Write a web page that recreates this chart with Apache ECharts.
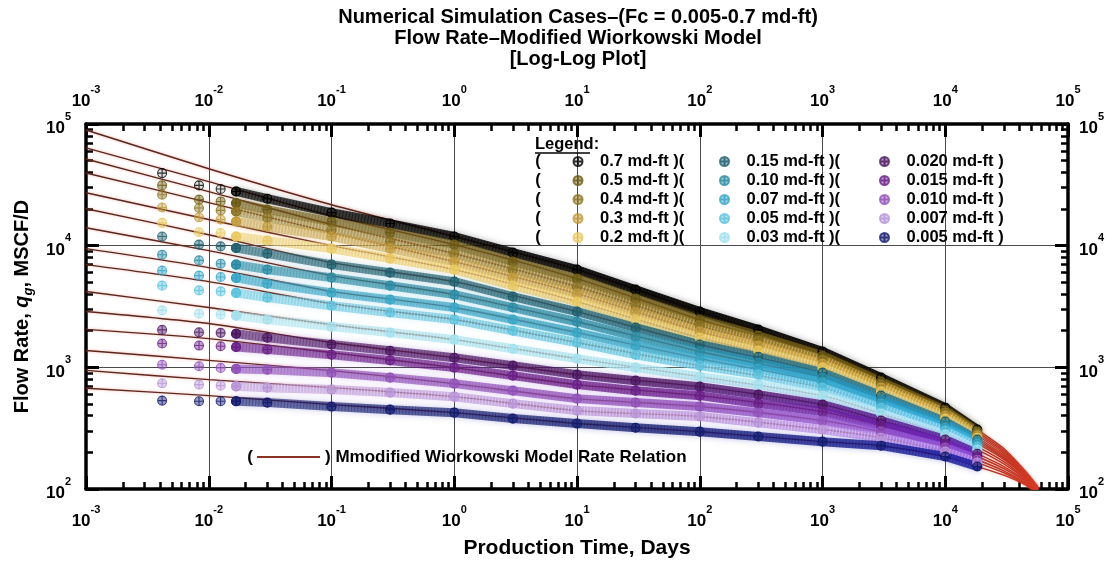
<!DOCTYPE html>
<html>
<head>
<meta charset="utf-8">
<title>Flow Rate – Modified Wiorkowski Model</title>
<script src="https://cdn.jsdelivr.net/npm/echarts@6/dist/echarts.min.js"></script>
<style>
  html, body { margin: 0; padding: 0; background: #fff; }
  #chart { width: 1113px; height: 565px; }
</style>
</head>
<body>
<div id="chart"></div>
<script>
// ---- Simulated production data (days, MSCF/D) ----
const sampleTimes = [0.00417, 0.00833, 0.0125, 0.0167, 0.03, 0.1, 0.3, 1, 3, 10, 30, 100, 300, 1000, 3000, 10000, 18250];

const rate_0p7   = [39500, 31300, 29200, 27900, 24300, 18700, 15200, 11900, 8760, 6350, 4350, 2870, 2040, 1350, 823, 466, 308];
const rate_0p5   = [31300, 23900, 23100, 22400, 19800, 15700, 12800, 10200, 7390, 5360, 3670, 2470, 1820, 1250, 763, 441, 296];
const rate_0p4   = [26200, 20400, 19500, 19100, 17000, 13500, 10800, 8600, 6350, 4600, 3210, 2200, 1660, 1160, 721, 424, 285];
const rate_0p3   = [20600, 17100, 16400, 15800, 14300, 11900, 9450, 7390, 5460, 4030, 2820, 1970, 1510, 1070, 681, 401, 275];
const rate_0p2   = [15400, 12900, 12700, 11900, 11000, 9450, 7820, 6350, 4690, 3470, 2470, 1750, 1370, 994, 631, 379, 264];
const rate_0p15  = [11900, 10200, 9870, 9570, 8600, 6980, 6000, 5060, 3810, 2870, 2120, 1540, 1220, 904, 585, 358, 255];
const rate_0p10  = [8430, 7570, 7110, 6980, 6350, 5460, 4690, 3960, 3100, 2370, 1790, 1350, 1090, 823, 543, 338, 245];
const rate_0p07  = [6230, 5670, 5530, 5430, 4870, 4110, 3600, 3100, 2470, 1930, 1510, 1180, 976, 749, 503, 319, 236];
const rate_0p05  = [4690, 4290, 4210, 4090, 3740, 3210, 2820, 2470, 2000, 1600, 1270, 1033, 871, 681, 466, 302, 223];
const rate_0p03  = [2940, 2760, 2710, 2660, 2470, 2160, 1930, 1690, 1420, 1180, 994, 839, 721, 585, 417, 280, 211];
const rate_0p020 = [2030, 1940, 1920, 1890, 1750, 1540, 1370, 1200, 1033, 871, 777, 694, 597, 494, 365, 255, 195];
const rate_0p015 = [1570, 1510, 1490, 1470, 1400, 1270, 1140, 994, 855, 721, 643, 585, 503, 432, 332, 236, 185];
const rate_0p010 = [1050, 1020, 989, 970, 957, 904, 823, 735, 643, 553, 513, 476, 424, 365, 296, 219, 174];
const rate_0p007 = [739, 721, 707, 698, 681, 656, 620, 574, 503, 441, 417, 394, 351, 308, 264, 203, 165];
const rate_0p005 = [533, 526, 526, 526, 513, 476, 449, 424, 379, 345, 319, 296, 270, 245, 227, 185, 153];

// ---- Modified Wiorkowski rate relation, one curve per case ----
const modelTimes = [0.001, 0.01, 0.1, 1, 10, 100, 1000, 3000, 10000, 18250, 30000, 45000, 57000];

const model_0p7   = [89300, 42900, 21700, 11900, 6350, 2870, 1350, 823, 466, 308, 215, 140, 104];
const model_0p5   = [63600, 33600, 17600, 10200, 5360, 2470, 1250, 763, 441, 296, 208, 137, 103];
const model_0p4   = [51600, 27800, 14900, 8600, 4600, 2200, 1160, 721, 424, 285, 202, 135, 102];
const model_0p3   = [39600, 22600, 12800, 7390, 4030, 1970, 1070, 681, 401, 275, 196, 133, 101];
const model_0p2   = [27200, 16400, 10000, 6350, 3470, 1750, 994, 631, 379, 264, 190, 131, 100];
const model_0p15  = [20100, 12300, 7250, 5060, 2870, 1540, 904, 585, 358, 255, 185, 129, 99];
const model_0p10  = [14050, 9100, 5670, 3960, 2370, 1350, 823, 543, 338, 245, 180, 127, 98];
const model_0p07  = [9450, 6600, 4210, 3100, 1930, 1180, 749, 503, 319, 236, 175, 125, 97];
const model_0p05  = [6980, 5060, 3340, 2470, 1600, 1033, 681, 466, 302, 223, 168, 122, 96];
const model_0p03  = [4200, 3100, 2240, 1690, 1180, 839, 585, 417, 280, 211, 161, 120, 95];
const model_0p020 = [2880, 2290, 1600, 1200, 871, 694, 494, 365, 255, 195, 153, 117, 94];
const model_0p015 = [2050, 1720, 1320, 994, 721, 585, 432, 332, 236, 185, 147, 115, 93];
const model_0p010 = [1377, 1140, 940, 735, 553, 476, 365, 296, 219, 174, 141, 112, 92];
const model_0p007 = [944, 792, 681, 574, 441, 394, 308, 264, 203, 165, 136, 110, 91];
const model_0p005 = [673, 585, 494, 424, 345, 296, 245, 227, 185, 153, 130, 108, 90];

// ---- Case labels and colours ----
const caseNames = ['0.7 md-ft', '0.5 md-ft', '0.4 md-ft', '0.3 md-ft', '0.2 md-ft',
                   '0.15 md-ft', '0.10 md-ft', '0.07 md-ft', '0.05 md-ft', '0.03 md-ft',
                   '0.020 md-ft', '0.015 md-ft', '0.010 md-ft', '0.007 md-ft', '0.005 md-ft'];
// marker colour, and the deeper tone the dense late-time record takes on
const caseColors = ['#000000', '#6b5a14', '#8c7424', '#c09a3c', '#e8c860',
                    '#1f5f6e', '#2b8ba3', '#36a4c4', '#5cc2dc', '#a2e0ec',
                    '#4b1660', '#6a1f86', '#9050b8', '#b893d6', '#141c6e'];
const caseLateColors = ['#000000', '#7a6010', '#b08820', '#dcac34', '#f4cc66',
                        '#1a78a0', '#1f98c8', '#30b0e0', '#70ccf0', '#b8ecfa',
                        '#5010a0', '#6a20c0', '#9050e0', '#b888f0', '#0c10a0'];
const caseRates = [rate_0p7, rate_0p5, rate_0p4, rate_0p3, rate_0p2, rate_0p15, rate_0p10, rate_0p07,
                   rate_0p05, rate_0p03, rate_0p020, rate_0p015, rate_0p010, rate_0p007, rate_0p005];
const caseModels = [model_0p7, model_0p5, model_0p4, model_0p3, model_0p2, model_0p15, model_0p10, model_0p07,
                    model_0p05, model_0p03, model_0p020, model_0p015, model_0p010, model_0p007, model_0p005];
const modelName = 'Mmodified Wiorkowski Model Rate Relation';

const FONT = '"Liberation Sans", Arial, Helvetica, sans-serif';
const MARKER = 'path://M10,0A10,10,0,1,1,-10,0A10,10,0,1,1,10,0ZM-10,0L10,0M0,-10L0,10';

function hexToRgba(hex, a) {
  const n = parseInt(hex.slice(1), 16);
  return 'rgba(' + ((n >> 16) & 255) + ',' + ((n >> 8) & 255) + ',' + (n & 255) + ',' + a + ')';
}

// minor ticks at 2..9 within each decade
function minorTicks(lo, hi) {
  const out = [];
  for (let e = lo; e < hi; e++) {
    for (let m = 2; m <= 9; m++) out.push(m * Math.pow(10, e));
  }
  return out;
}

const powLabel = {
  formatter: function (v) {
    const e = Math.round(Math.log10(v));
    return '{b|10}{s|' + e + '}';
  },
  rich: {
    b: { fontFamily: FONT, fontSize: 17, fontWeight: 'bold', color: '#000', lineHeight: 26, verticalAlign: 'bottom' },
    s: { fontFamily: FONT, fontSize: 11, fontWeight: 'bold', color: '#000', lineHeight: 26, verticalAlign: 'top' }
  }
};

const axisLineStyle = { show: true, lineStyle: { color: '#000', width: 3.5 } };

function majorAxis(position, isX, extra) {
  return Object.assign({
    type: 'log', logBase: 10,
    position: position,
    min: isX ? 0.001 : 100,
    max: 100000,
    axisLine: axisLineStyle,
    axisTick: { show: true, inside: true, length: 13, lineStyle: { color: '#000', width: 3 } },
    axisLabel: Object.assign({ show: true, showMinLabel: true, showMaxLabel: true }, powLabel),
    splitLine: { show: false },
    minorTick: { show: false }
  }, extra || {});
}

function minorAxis(position, isX) {
  return {
    type: 'log', logBase: 10,
    position: position,
    min: isX ? 0.001 : 100,
    max: 100000,
    axisLine: { show: false },
    axisTick: {
      show: true, inside: true, length: 7,
      lineStyle: { color: '#000', width: 2.5 },
      customValues: isX ? minorTicks(-3, 5) : minorTicks(2, 5)
    },
    axisLabel: { show: false },
    splitLine: { show: false }
  };
}

const series = [];
caseNames.forEach(function (name, i) {
  const color = caseColors[i];
  const late = caseLateColors[i];
  const light = (i >= 2 && i <= 4) || i === 8 || i === 9 || i === 13;
  const fill = hexToRgba(color, i === 0 ? 0.15 : 0.55);
  const pts = sampleTimes.map(function (t, k) { return [t, caseRates[i][k]]; });
  const itemStyle = { color: fill, borderColor: color, borderWidth: 1.1 };
  // isolated early-time points
  series.push({
    type: 'scatter', name: name, data: pts.slice(0, 4),
    symbol: MARKER, symbolSize: 9, itemStyle: itemStyle, z: 4
  });
  // continuous record from ~0.02 day to 50 years
  series.push({
    type: 'line', name: name, data: pts.slice(3),
    symbol: MARKER, symbolSize: 9, showSymbol: true, itemStyle: itemStyle,
    lineStyle: {
      width: 9, cap: 'round', opacity: i === 0 ? 0.9 : 0.75,
      color: new echarts.graphic.LinearGradient(240, 0, 980, 0, [
        { offset: 0, color: hexToRgba(color, 0.75) },
        { offset: 0.55, color: color },
        { offset: 1, color: late }
      ], true),
      shadowColor: hexToRgba(late, 0.35), shadowBlur: 6
    },
    z: 3
  });
  // fine hatching that gives the dense run of markers its texture
  series.push({
    type: 'line', name: name, data: pts.slice(3),
    symbol: 'none', silent: true,
    lineStyle: { width: 8, color: light ? '#ffffff' : color, opacity: i === 0 ? 0.5 : (light ? 0.35 : 0.35), type: [1, 2.2] },
    z: 3
  });
});

caseModels.forEach(function (vals) {
  series.push({
    type: 'line', name: modelName,
    data: modelTimes.map(function (t, k) { return [t, vals[k]]; }),
    symbol: 'none', smooth: 0.25,
    itemStyle: { color: '#8a3224' },
    lineStyle: {
      width: 1.4,
      color: new echarts.graphic.LinearGradient(0, 0, 1, 0, [
        { offset: 0, color: '#5a261c' },
        { offset: 0.86, color: '#7a2a1c' },
        { offset: 1, color: '#d8341e' }
      ]),
      shadowColor: 'rgba(210,70,50,0.45)', shadowBlur: 3
    },
    z: 2, clip: true
  });
});

const legendText = { fontFamily: FONT, fontSize: 16.5, fontWeight: 'bold', color: '#000', lineHeight: 19 };
function caseLegend(left, names, tail) {
  return {
    left: left, top: 152, orient: 'vertical', padding: 0,
    itemGap: 0, itemWidth: 34, itemHeight: 9, icon: MARKER,
    selectedMode: false,
    data: names,
    formatter: function (n) { return n + tail; },
    textStyle: legendText
  };
}

const rowY = [0, 1, 2, 3, 4].map(function (r) { return 152 + 9.5 + r * 19; });
const graphics = rowY.map(function (y) {
  return { type: 'text', x: 538, y: y, style: { text: '(', font: 'bold 16.5px ' + FONT, fill: '#000', textAlign: 'center', textVerticalAlign: 'middle' }, z: 10 };
});
graphics.push(
  { type: 'text', x: 535, y: 144, style: { text: 'Legend:', font: 'bold 16.5px ' + FONT, fill: '#000', textAlign: 'left', textVerticalAlign: 'middle' }, z: 10 },
  { type: 'line', shape: { x1: 535, y1: 153, x2: 590, y2: 153 }, style: { stroke: '#000', lineWidth: 1.5 }, z: 10 },
  { type: 'text', x: 250, y: 457, style: { text: '(', font: 'bold 17px ' + FONT, fill: '#000', textAlign: 'center', textVerticalAlign: 'middle' }, z: 10 }
);

const option = {
  animation: false,
  backgroundColor: '#ffffff',
  title: {
    text: 'Numerical Simulation Cases–(Fc = 0.005-0.7 md-ft)\nFlow Rate–Modified Wiorkowski Model\n[Log-Log Plot]',
    left: 573, top: 2, textAlign: 'center',
    textStyle: { fontFamily: FONT, fontSize: 20, fontWeight: 'bold', color: '#000', lineHeight: 21 }
  },
  grid: { left: 86, right: 45, top: 124, bottom: 76, containLabel: false },
  xAxis: [
    majorAxis('bottom', true, {
      name: 'Production Time, Days', nameLocation: 'middle', nameGap: 49,
      nameTextStyle: { fontFamily: FONT, fontSize: 21, fontWeight: 'bold', color: '#000' },
      axisLabel: Object.assign({ show: true, margin: 15 }, powLabel),
      splitLine: { show: true, lineStyle: { color: '#4a4a4a', width: 1 } }
    }),
    minorAxis('bottom', true),
    majorAxis('top', true, { axisLabel: Object.assign({ show: true, margin: 14 }, powLabel) }),
    minorAxis('top', true)
  ],
  yAxis: [
    majorAxis('left', false, {
      name: 'Flow Rate, {i|q}{sub|g}, MSCF/D', nameLocation: 'middle', nameGap: 48,
      nameTextStyle: {
        fontFamily: FONT, fontSize: 20, fontWeight: 'bold', color: '#000', lineHeight: 26,
        rich: {
          i: { fontFamily: FONT, fontSize: 20, fontWeight: 'bold', fontStyle: 'italic', color: '#000', lineHeight: 26 },
          sub: { fontFamily: FONT, fontSize: 13, fontWeight: 'bold', fontStyle: 'italic', color: '#000', lineHeight: 26, verticalAlign: 'bottom' }
        }
      },
      axisLabel: Object.assign({ show: true, margin: 15 }, powLabel),
      splitLine: { show: true, lineStyle: { color: '#4a4a4a', width: 1 } }
    }),
    minorAxis('left', false),
    majorAxis('right', false, { axisLabel: Object.assign({ show: true, margin: 11 }, powLabel) }),
    minorAxis('right', false)
  ],
  legend: [
    caseLegend(572.5, caseNames.slice(0, 5), ' )('),
    caseLegend(719, caseNames.slice(5, 10), ' )('),
    caseLegend(879, caseNames.slice(10, 15), ' )'),
    {
      left: 257, top: 447.5, orient: 'horizontal', padding: 0,
      itemWidth: 63, itemHeight: 2, icon: 'rect', selectedMode: false,
      itemStyle: { color: '#8a3224' },
      data: [modelName],
      formatter: function (n) { return ') ' + n; },
      textStyle: Object.assign({}, legendText, { fontSize: 17 })
    }
  ],
  graphic: graphics,
  series: series
};

const chart = echarts.init(document.getElementById('chart'));
chart.setOption(option);
</script>
</body>
</html>
